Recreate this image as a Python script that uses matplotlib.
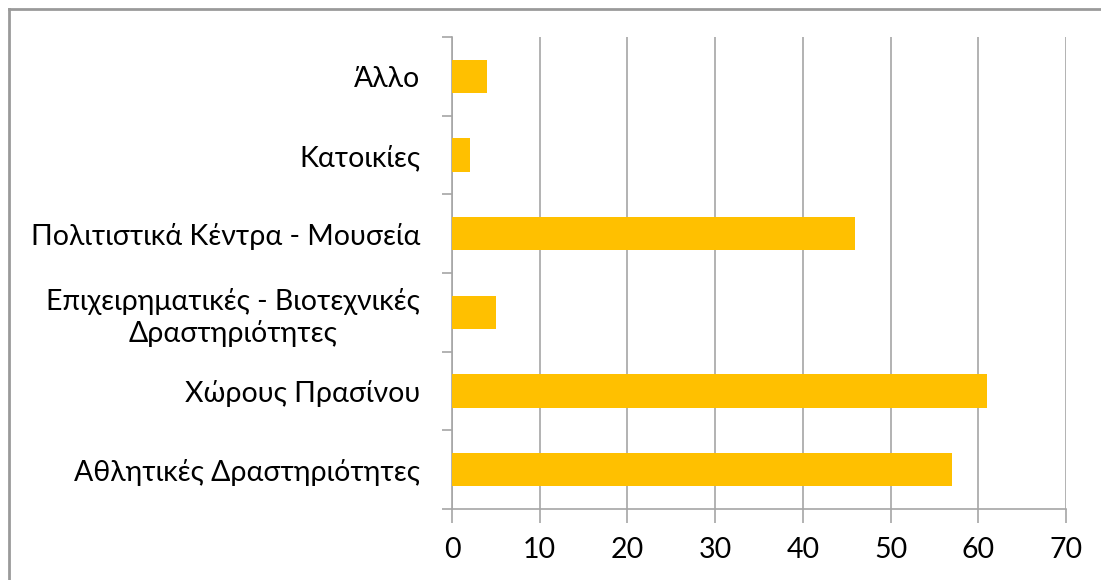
import numpy as np
import matplotlib
matplotlib.use("Agg")
from matplotlib import pyplot as plt
from matplotlib.lines import Line2D

# categorias (de baixo para cima)
categorias = ["Αθλητικές Δραστηριότητες",
              "Χώρους Πρασίνου",
              "Επιχειρηματικές - Βιοτεχνικές\nΔραστηριότητες",
              "Πολιτιστικά Κέντρα - Μουσεία",
              "Κατοικίες",
              "Άλλο"]
valores = [57, 61, 5, 46, 2, 4]
xticks = [0, 10, 20, 30, 40, 50, 60, 70]

plt.rcParams['font.family'] = ['Lato', 'DejaVu Sans']

W, H = 1101, 580
fig = plt.figure(figsize=(W/100, H/100), dpi=100)
ax = fig.add_axes([452/W, 1-509/H, (1066-452)/W, (509-37)/H])

y = np.arange(len(categorias))
ax.barh(y, valores, height=0.42, color='#FFC000', zorder=3)

ax.set_xlim(0, 70)
ax.set_ylim(-0.5, len(categorias)-0.5)
ax.set_xticks(xticks)
ax.set_xticklabels([str(t) for t in xticks], fontsize=20.5)
ax.xaxis.grid(True, color='#A6A6A6', linewidth=1.2, zorder=0)

# labels no centro, ticks nas fronteiras
ax.set_yticks(y)
ax.set_yticklabels(categorias, fontsize=20.5, multialignment='center', linespacing=1.25)
ax.tick_params(axis='y', length=0, pad=23)
ax.set_yticks(np.arange(-0.5, len(categorias)), minor=True)
ax.tick_params(axis='y', which='minor', length=7, width=1.2, color='#A6A6A6')
ax.tick_params(axis='x', length=10, width=1.2, color='#A6A6A6', pad=10)

for s in ['top', 'right']:
    ax.spines[s].set_visible(False)
for s in ['left', 'bottom']:
    ax.spines[s].set_color('#A6A6A6')
    ax.spines[s].set_linewidth(1.2)

# moldura da figura (so esquerda e topo visiveis)
fig.add_artist(Line2D([8.5/W, 8.5/W], [0, 1-9/H], color='#9A9A9A', linewidth=2, transform=fig.transFigure))
fig.add_artist(Line2D([8.5/W, 1], [1-9/H, 1-9/H], color='#9A9A9A', linewidth=2, transform=fig.transFigure))

plt.savefig('out.png', dpi=100)
